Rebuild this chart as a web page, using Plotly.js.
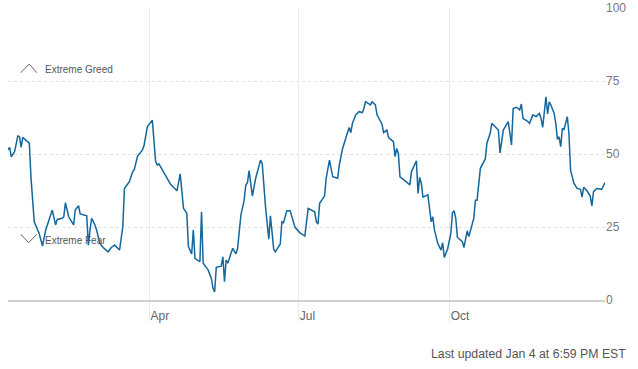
<!DOCTYPE html>
<html>
<head>
<meta charset="utf-8">
<script src="https://cdn.plot.ly/plotly-3.0.1.min.js"></script>
<style>
  html, body { margin: 0; padding: 0; background: #fff; }
  #chart { width: 638px; height: 369px; }
</style>
</head>
<body>
<div id="chart"></div>
<script>
// Fear & Greed index, daily readings
const dates = [
  '2023-01-05','2023-01-06','2023-01-07','2023-01-09','2023-01-11','2023-01-12','2023-01-13','2023-01-14',
  '2023-01-18','2023-01-19','2023-01-21','2023-01-23','2023-01-24','2023-01-26','2023-01-28','2023-01-30',
  '2023-02-01','2023-02-03','2023-02-04','2023-02-07','2023-02-08','2023-02-09','2023-02-11','2023-02-14',
  '2023-02-15','2023-02-17','2023-02-18','2023-02-22','2023-02-23','2023-02-24','2023-02-25','2023-02-27',
  '2023-02-28','2023-03-02','2023-03-04','2023-03-07','2023-03-09','2023-03-11','2023-03-14','2023-03-16',
  '2023-03-17','2023-03-20','2023-03-22','2023-03-23','2023-03-25','2023-03-28','2023-03-29','2023-03-31',
  '2023-04-03','2023-04-05','2023-04-06','2023-04-07','2023-04-10','2023-04-12','2023-04-14','2023-04-18',
  '2023-04-20','2023-04-22','2023-04-24','2023-04-25','2023-04-27','2023-04-28','2023-04-29','2023-05-02',
  '2023-05-03','2023-05-04','2023-05-07','2023-05-09','2023-05-10','2023-05-11','2023-05-12','2023-05-15',
  '2023-05-16','2023-05-17','2023-05-18','2023-05-19','2023-05-22','2023-05-24','2023-05-25','2023-05-27',
  '2023-05-29','2023-05-30','2023-05-31','2023-06-01','2023-06-03','2023-06-05','2023-06-08','2023-06-09',
  '2023-06-11','2023-06-13','2023-06-14','2023-06-16','2023-06-17','2023-06-20','2023-06-21','2023-06-22',
  '2023-06-24','2023-06-26','2023-06-29','2023-06-30','2023-07-02','2023-07-05','2023-07-07','2023-07-11',
  '2023-07-12','2023-07-13','2023-07-14','2023-07-17','2023-07-18','2023-07-20','2023-07-22','2023-07-25',
  '2023-07-26','2023-07-28','2023-07-31','2023-08-01','2023-08-02','2023-08-03','2023-08-05','2023-08-07',
  '2023-08-09','2023-08-10','2023-08-11','2023-08-14','2023-08-15','2023-08-17','2023-08-18','2023-08-21',
  '2023-08-22','2023-08-24','2023-08-25','2023-08-28','2023-08-29','2023-08-30','2023-08-31','2023-09-01',
  '2023-09-04','2023-09-06','2023-09-07','2023-09-08','2023-09-11','2023-09-12','2023-09-13','2023-09-14',
  '2023-09-15','2023-09-18','2023-09-20','2023-09-21','2023-09-22','2023-09-24','2023-09-26','2023-09-27',
  '2023-09-28','2023-09-30','2023-10-02','2023-10-03','2023-10-04','2023-10-05','2023-10-06','2023-10-09',
  '2023-10-10','2023-10-12','2023-10-13','2023-10-16','2023-10-17','2023-10-18','2023-10-20','2023-10-23',
  '2023-10-24','2023-10-26','2023-10-27','2023-10-31','2023-11-01','2023-11-03','2023-11-06','2023-11-08',
  '2023-11-09','2023-11-11','2023-11-13','2023-11-14','2023-11-15','2023-11-18','2023-11-19','2023-11-21',
  '2023-11-23','2023-11-25','2023-11-26','2023-11-27','2023-11-29','2023-11-30','2023-12-01','2023-12-02',
  '2023-12-04','2023-12-05','2023-12-06','2023-12-07','2023-12-08','2023-12-09','2023-12-10','2023-12-12',
  '2023-12-13','2023-12-14','2023-12-16','2023-12-18','2023-12-20','2023-12-21','2023-12-22','2023-12-24',
  '2023-12-26','2023-12-27','2023-12-28','2023-12-30','2024-01-02','2024-01-04'
];
const values = [
  51.4,52.3,49.0,50.8,56.2,56.0,52.3,55.7,
  53.7,42.0,26.8,24.5,22.8,18.5,24.0,27.4,
  30.8,25.7,27.6,28.0,28.5,33.3,28.5,25.7,
  30.8,32.3,29.5,28.8,18.8,24.0,28.0,25.7,
  24.0,19.4,18.0,16.5,18.0,18.8,17.1,25.1,
  38.2,40.5,43.9,44.7,49.3,51.4,53.1,59.4,
  61.6,47.4,46.2,46.6,43.9,41.7,39.7,37.4,
  43.2,31.4,29.7,18.3,15.8,24.0,14.3,13.1,
  30.2,12.6,10.3,7.4,4.0,2.8,11.2,11.6,
  14.8,6.3,13.7,12.6,17.7,15.8,17.7,29.1,
  34.2,39.4,40.2,44.3,35.6,41.7,47.9,46.8,
  32.0,20.8,28.8,17.4,16.5,19.2,26.8,26.5,
  30.6,30.6,24.9,24.2,23.0,21.9,31.4,30.2,
  26.8,26.0,33.1,35.6,41.7,47.9,42.2,41.7,
  46.2,51.9,57.6,59.1,57.3,60.5,63.4,64.5,
  64.2,65.6,67.9,66.8,67.9,66.8,63.4,60.3,
  57.3,58.2,55.6,54.2,49.1,51.9,50.2,42.2,
  40.9,40.0,39.4,43.9,47.7,36.5,42.0,40.0,
  35.2,36.0,26.8,28.5,24.0,19.4,17.1,19.6,
  14.6,17.4,22.8,29.9,30.6,28.0,21.5,20.0,
  18.0,23.7,21.7,28.0,34.2,34.2,45.1,48.3,
  53.7,57.1,60.5,58.2,50.4,58.2,61.1,53.1,
  65.6,66.0,65.1,67.1,62.2,61.1,60.5,63.4,
  62.8,63.9,62.2,59.1,69.6,63.7,67.9,66.8,
  63.9,60.5,55.0,55.9,52.5,58.8,58.4,62.8,
  57.1,44.5,40.0,38.2,37.9,35.2,38.6,37.4,
  35.6,32.2,37.1,38.2,37.9,40.2
];
const xTickVals = ['2023-04-01','2023-07-01','2023-10-01'];
const xTickText = ['Apr','Jul','Oct'];
const yTickVals = [0,25,50,75,100];
const zoneLabels = ['Extreme Greed','Extreme Fear'];
const updatedText = 'Last updated Jan 4 at 6:59 PM EST';

const FONT = 'Liberation Sans, Arial, sans-serif';

const trace = {
  x: dates, y: values, type: 'scatter', mode: 'lines',
  line: { color: '#13679c', width: 1.5 },
  hoverinfo: 'skip'
};

const layout = {
  width: 638, height: 369,
  margin: { l: 8, r: 33, t: 8, b: 69 },
  paper_bgcolor: '#fff', plot_bgcolor: '#fff',
  showlegend: false,
  font: { family: FONT, size: 12, color: '#666' },
  xaxis: {
    type: 'date',
    range: [dates[0], dates[dates.length - 1]],
    tickmode: 'array', tickvals: xTickVals, ticktext: xTickText,
    showgrid: true, gridcolor: '#ececec', gridwidth: 1,
    ticks: 'outside', ticklen: 20, tickcolor: '#ececec', tickwidth: 1,
    ticklabelposition: 'outside right',
    ticklabelstandoff: 4,
    showline: true, linecolor: '#cfcfcf', linewidth: 2,
    zeroline: false, fixedrange: true,
    tickfont: { family: FONT, size: 12, color: '#666' }
  },
  yaxis: {
    side: 'right', range: [0, 100],
    tickmode: 'array', tickvals: yTickVals,
    showgrid: true, gridcolor: '#e3e3e3', griddash: 'dot', gridwidth: 1,
    zeroline: false, showline: false, ticks: '',
    fixedrange: true,
    tickfont: { family: FONT, size: 12, color: '#777' }
  },
  shapes: [
    { type: 'path', xref: 'paper', yref: 'paper',
      path: 'M 0.0213 0.7784 L 0.0357 0.8082 L 0.0481 0.7784',
      line: { color: '#666', width: 1 } },
    { type: 'path', xref: 'paper', yref: 'paper',
      path: 'M 0.0213 0.225 L 0.0347 0.1962 L 0.0481 0.225',
      line: { color: '#666', width: 1 } }
  ],
  annotations: [
    { xref: 'paper', yref: 'paper', x: 0.0586, y: 0.7877, xanchor: 'left', yanchor: 'middle',
      text: zoneLabels[0], showarrow: false, font: { family: FONT, size: 10, color: '#555' } },
    { xref: 'paper', yref: 'paper', x: 0.0586, y: 0.2038, xanchor: 'left', yanchor: 'middle',
      text: zoneLabels[1], showarrow: false, font: { family: FONT, size: 10, color: '#555' } },
    { xref: 'paper', yref: 'paper', x: 1.0385, y: -0.185, xanchor: 'right', yanchor: 'middle',
      text: updatedText, showarrow: false, font: { family: FONT, size: 12.3, color: '#555' } }
  ]
};

Plotly.newPlot('chart', [trace], layout, { displayModeBar: false, staticPlot: true });
</script>
</body>
</html>
